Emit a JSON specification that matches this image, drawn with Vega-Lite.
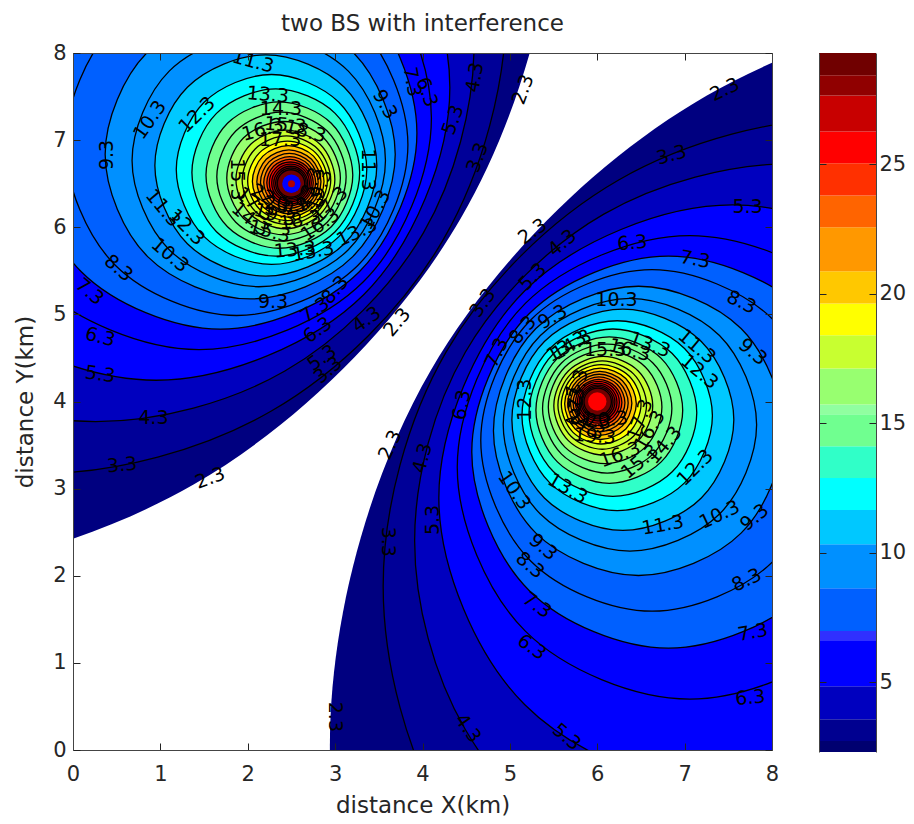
{"$schema":"https://vega.github.io/schema/vega-lite/v6.json","padding":{"left":14,"top":13,"right":0,"bottom":0},"background":"white","config":{"view":{"stroke":null},"font":"DejaVu Sans"},"spacing":39,"resolve":{"scale":{"fill":"independent","color":"independent"}},
"datasets":{
"rings":[
{"s":"A","l":2.3,"x":5.56,"y":10.28},{"s":"A","l":2.3,"x":4.44,"y":14.455},{"s":"A","l":2.3,"x":1.385,"y":17.51},{"s":"A","l":2.3,"x":-2.79,"y":18.63},{"s":"A","l":2.3,"x":-6.965,"y":17.51},{"s":"A","l":2.3,"x":-10.02,"y":14.455},{"s":"A","l":2.3,"x":-11.14,"y":10.28},{"s":"A","l":2.3,"x":-10.02,"y":6.105},{"s":"A","l":2.3,"x":-6.965,"y":3.05},{"s":"A","l":2.3,"x":-2.79,"y":1.93},{"s":"A","l":2.3,"x":1.385,"y":3.05},{"s":"A","l":2.3,"x":4.44,"y":6.105},
{"s":"B","l":2.3,"x":20.16,"y":0.05},{"s":"B","l":2.3,"x":19.01,"y":4.355},{"s":"B","l":2.3,"x":15.855,"y":7.506},{"s":"B","l":2.3,"x":11.55,"y":8.66},{"s":"B","l":2.3,"x":7.245,"y":7.506},{"s":"B","l":2.3,"x":4.094,"y":4.355},{"s":"B","l":2.3,"x":2.94,"y":0.05},{"s":"B","l":2.3,"x":4.094,"y":-4.255},{"s":"B","l":2.3,"x":7.245,"y":-7.406},{"s":"B","l":2.3,"x":11.55,"y":-8.56},{"s":"B","l":2.3,"x":15.855,"y":-7.406},{"s":"B","l":2.3,"x":19.01,"y":-4.255},
{"s":"A","l":3.3,"x":4.96,"y":8.55},{"s":"A","l":3.3,"x":4.239,"y":11.24},{"s":"A","l":3.3,"x":2.27,"y":13.209},{"s":"A","l":3.3,"x":-0.42,"y":13.93},{"s":"A","l":3.3,"x":-3.11,"y":13.209},{"s":"A","l":3.3,"x":-5.079,"y":11.24},{"s":"A","l":3.3,"x":-5.8,"y":8.55},{"s":"A","l":3.3,"x":-5.079,"y":5.86},{"s":"A","l":3.3,"x":-3.11,"y":3.891},{"s":"A","l":3.3,"x":-0.42,"y":3.17},{"s":"A","l":3.3,"x":2.27,"y":3.891},{"s":"A","l":3.3,"x":4.239,"y":5.86},
{"s":"B","l":3.3,"x":14.31,"y":1.88},{"s":"B","l":3.3,"x":13.589,"y":4.57},{"s":"B","l":3.3,"x":11.62,"y":6.539},{"s":"B","l":3.3,"x":8.93,"y":7.26},{"s":"B","l":3.3,"x":6.24,"y":6.539},{"s":"B","l":3.3,"x":4.271,"y":4.57},{"s":"B","l":3.3,"x":3.55,"y":1.88},{"s":"B","l":3.3,"x":4.271,"y":-0.81},{"s":"B","l":3.3,"x":6.24,"y":-2.779},{"s":"B","l":3.3,"x":8.93,"y":-3.5},{"s":"B","l":3.3,"x":11.62,"y":-2.779},{"s":"B","l":3.3,"x":13.589,"y":-0.81},
{"s":"A","l":4.3,"x":4.59,"y":8.1},{"s":"A","l":4.3,"x":4.01,"y":10.265},{"s":"A","l":4.3,"x":2.425,"y":11.85},{"s":"A","l":4.3,"x":0.26,"y":12.43},{"s":"A","l":4.3,"x":-1.905,"y":11.85},{"s":"A","l":4.3,"x":-3.49,"y":10.265},{"s":"A","l":4.3,"x":-4.07,"y":8.1},{"s":"A","l":4.3,"x":-3.49,"y":5.935},{"s":"A","l":4.3,"x":-1.905,"y":4.35},{"s":"A","l":4.3,"x":0.26,"y":3.77},{"s":"A","l":4.3,"x":2.425,"y":4.35},{"s":"A","l":4.3,"x":4.01,"y":5.935},
{"s":"B","l":4.3,"x":12.57,"y":2.4},{"s":"B","l":4.3,"x":11.99,"y":4.565},{"s":"B","l":4.3,"x":10.405,"y":6.15},{"s":"B","l":4.3,"x":8.24,"y":6.73},{"s":"B","l":4.3,"x":6.075,"y":6.15},{"s":"B","l":4.3,"x":4.49,"y":4.565},{"s":"B","l":4.3,"x":3.91,"y":2.4},{"s":"B","l":4.3,"x":4.49,"y":0.235},{"s":"B","l":4.3,"x":6.075,"y":-1.35},{"s":"B","l":4.3,"x":8.24,"y":-1.93},{"s":"B","l":4.3,"x":10.405,"y":-1.35},{"s":"B","l":4.3,"x":11.99,"y":0.235},
{"s":"A","l":5.3,"x":4.313,"y":7.604},{"s":"A","l":5.3,"x":3.329,"y":9.98},{"s":"A","l":5.3,"x":0.953,"y":10.964},{"s":"A","l":5.3,"x":-1.423,"y":9.98},{"s":"A","l":5.3,"x":-2.407,"y":7.604},{"s":"A","l":5.3,"x":-1.423,"y":5.228},{"s":"A","l":5.3,"x":0.953,"y":4.244},{"s":"A","l":5.3,"x":3.329,"y":5.228},
{"s":"B","l":5.3,"x":10.907,"y":2.896},{"s":"B","l":5.3,"x":9.923,"y":5.272},{"s":"B","l":5.3,"x":7.547,"y":6.256},{"s":"B","l":5.3,"x":5.171,"y":5.272},{"s":"B","l":5.3,"x":4.187,"y":2.896},{"s":"B","l":5.3,"x":5.171,"y":0.52},{"s":"B","l":5.3,"x":7.547,"y":-0.464},{"s":"B","l":5.3,"x":9.923,"y":0.52},
{"s":"A","l":6.3,"x":4.102,"y":7.255},{"s":"A","l":6.3,"x":3.323,"y":9.136},{"s":"A","l":6.3,"x":1.442,"y":9.915},{"s":"A","l":6.3,"x":-0.439,"y":9.136},{"s":"A","l":6.3,"x":-1.218,"y":7.255},{"s":"A","l":6.3,"x":-0.439,"y":5.374},{"s":"A","l":6.3,"x":1.442,"y":4.595},{"s":"A","l":6.3,"x":3.323,"y":5.374},
{"s":"B","l":6.3,"x":9.718,"y":3.245},{"s":"B","l":6.3,"x":8.939,"y":5.126},{"s":"B","l":6.3,"x":7.058,"y":5.905},{"s":"B","l":6.3,"x":5.177,"y":5.126},{"s":"B","l":6.3,"x":4.398,"y":3.245},{"s":"B","l":6.3,"x":5.177,"y":1.364},{"s":"B","l":6.3,"x":7.058,"y":0.585},{"s":"B","l":6.3,"x":8.939,"y":1.364},
{"s":"A","l":7.3,"x":3.936,"y":7.081},{"s":"A","l":7.3,"x":3.277,"y":8.672},{"s":"A","l":7.3,"x":1.686,"y":9.331},{"s":"A","l":7.3,"x":0.095,"y":8.672},{"s":"A","l":7.3,"x":-0.564,"y":7.081},{"s":"A","l":7.3,"x":0.095,"y":5.49},{"s":"A","l":7.3,"x":1.686,"y":4.831},{"s":"A","l":7.3,"x":3.277,"y":5.49},
{"s":"B","l":7.3,"x":9.064,"y":3.419},{"s":"B","l":7.3,"x":8.405,"y":5.01},{"s":"B","l":7.3,"x":6.814,"y":5.669},{"s":"B","l":7.3,"x":5.223,"y":5.01},{"s":"B","l":7.3,"x":4.564,"y":3.419},{"s":"B","l":7.3,"x":5.223,"y":1.828},{"s":"B","l":7.3,"x":6.814,"y":1.169},{"s":"B","l":7.3,"x":8.405,"y":1.828},
{"s":"A","l":8.3,"x":3.833,"y":6.947},{"s":"A","l":8.3,"x":3.259,"y":8.333},{"s":"A","l":8.3,"x":1.873,"y":8.907},{"s":"A","l":8.3,"x":0.487,"y":8.333},{"s":"A","l":8.3,"x":-0.087,"y":6.947},{"s":"A","l":8.3,"x":0.487,"y":5.561},{"s":"A","l":8.3,"x":1.873,"y":4.987},{"s":"A","l":8.3,"x":3.259,"y":5.561},
{"s":"B","l":8.3,"x":8.587,"y":3.553},{"s":"B","l":8.3,"x":8.013,"y":4.939},{"s":"B","l":8.3,"x":6.627,"y":5.513},{"s":"B","l":8.3,"x":5.241,"y":4.939},{"s":"B","l":8.3,"x":4.667,"y":3.553},{"s":"B","l":8.3,"x":5.241,"y":2.167},{"s":"B","l":8.3,"x":6.627,"y":1.593},{"s":"B","l":8.3,"x":8.013,"y":2.167},
{"s":"A","l":9.3,"x":3.688,"y":6.837},{"s":"A","l":9.3,"x":3.202,"y":8.011},{"s":"A","l":9.3,"x":2.028,"y":8.497},{"s":"A","l":9.3,"x":0.854,"y":8.011},{"s":"A","l":9.3,"x":0.368,"y":6.837},{"s":"A","l":9.3,"x":0.854,"y":5.663},{"s":"A","l":9.3,"x":2.028,"y":5.177},{"s":"A","l":9.3,"x":3.202,"y":5.663},
{"s":"B","l":9.3,"x":8.132,"y":3.663},{"s":"B","l":9.3,"x":7.646,"y":4.837},{"s":"B","l":9.3,"x":6.472,"y":5.323},{"s":"B","l":9.3,"x":5.298,"y":4.837},{"s":"B","l":9.3,"x":4.812,"y":3.663},{"s":"B","l":9.3,"x":5.298,"y":2.489},{"s":"B","l":9.3,"x":6.472,"y":2.003},{"s":"B","l":9.3,"x":7.646,"y":2.489},
{"s":"A","l":10.3,"x":3.576,"y":6.767},{"s":"A","l":10.3,"x":3.151,"y":7.792},{"s":"A","l":10.3,"x":2.126,"y":8.217},{"s":"A","l":10.3,"x":1.101,"y":7.792},{"s":"A","l":10.3,"x":0.676,"y":6.767},{"s":"A","l":10.3,"x":1.101,"y":5.742},{"s":"A","l":10.3,"x":2.126,"y":5.317},{"s":"A","l":10.3,"x":3.151,"y":5.742},
{"s":"B","l":10.3,"x":7.824,"y":3.733},{"s":"B","l":10.3,"x":7.399,"y":4.758},{"s":"B","l":10.3,"x":6.374,"y":5.183},{"s":"B","l":10.3,"x":5.349,"y":4.758},{"s":"B","l":10.3,"x":4.924,"y":3.733},{"s":"B","l":10.3,"x":5.349,"y":2.708},{"s":"B","l":10.3,"x":6.374,"y":2.283},{"s":"B","l":10.3,"x":7.399,"y":2.708},
{"s":"A","l":11.3,"x":3.477,"y":6.709},{"s":"A","l":11.3,"x":3.105,"y":7.607},{"s":"A","l":11.3,"x":2.207,"y":7.979},{"s":"A","l":11.3,"x":1.309,"y":7.607},{"s":"A","l":11.3,"x":0.937,"y":6.709},{"s":"A","l":11.3,"x":1.309,"y":5.811},{"s":"A","l":11.3,"x":2.207,"y":5.439},{"s":"A","l":11.3,"x":3.105,"y":5.811},
{"s":"B","l":11.3,"x":7.563,"y":3.791},{"s":"B","l":11.3,"x":7.191,"y":4.689},{"s":"B","l":11.3,"x":6.293,"y":5.061},{"s":"B","l":11.3,"x":5.395,"y":4.689},{"s":"B","l":11.3,"x":5.023,"y":3.791},{"s":"B","l":11.3,"x":5.395,"y":2.893},{"s":"B","l":11.3,"x":6.293,"y":2.521},{"s":"B","l":11.3,"x":7.191,"y":2.893},
{"s":"A","l":12.3,"x":3.362,"y":6.663},{"s":"A","l":12.3,"x":3.043,"y":7.434},{"s":"A","l":12.3,"x":2.272,"y":7.753},{"s":"A","l":12.3,"x":1.501,"y":7.434},{"s":"A","l":12.3,"x":1.182,"y":6.663},{"s":"A","l":12.3,"x":1.501,"y":5.892},{"s":"A","l":12.3,"x":2.272,"y":5.573},{"s":"A","l":12.3,"x":3.043,"y":5.892},
{"s":"B","l":12.3,"x":7.318,"y":3.837},{"s":"B","l":12.3,"x":6.999,"y":4.608},{"s":"B","l":12.3,"x":6.228,"y":4.927},{"s":"B","l":12.3,"x":5.457,"y":4.608},{"s":"B","l":12.3,"x":5.138,"y":3.837},{"s":"B","l":12.3,"x":5.457,"y":3.066},{"s":"B","l":12.3,"x":6.228,"y":2.747},{"s":"B","l":12.3,"x":6.999,"y":3.066},
{"s":"A","l":13.3,"x":3.281,"y":6.628},{"s":"A","l":13.3,"x":3,"y":7.307},{"s":"A","l":13.3,"x":2.321,"y":7.588},{"s":"A","l":13.3,"x":1.642,"y":7.307},{"s":"A","l":13.3,"x":1.361,"y":6.628},{"s":"A","l":13.3,"x":1.642,"y":5.949},{"s":"A","l":13.3,"x":2.321,"y":5.668},{"s":"A","l":13.3,"x":3,"y":5.949},
{"s":"B","l":13.3,"x":7.139,"y":3.872},{"s":"B","l":13.3,"x":6.858,"y":4.551},{"s":"B","l":13.3,"x":6.179,"y":4.832},{"s":"B","l":13.3,"x":5.5,"y":4.551},{"s":"B","l":13.3,"x":5.219,"y":3.872},{"s":"B","l":13.3,"x":5.5,"y":3.193},{"s":"B","l":13.3,"x":6.179,"y":2.912},{"s":"B","l":13.3,"x":6.858,"y":3.193},
{"s":"A","l":14.3,"x":3.202,"y":6.599},{"s":"A","l":14.3,"x":2.956,"y":7.193},{"s":"A","l":14.3,"x":2.362,"y":7.439},{"s":"A","l":14.3,"x":1.768,"y":7.193},{"s":"A","l":14.3,"x":1.522,"y":6.599},{"s":"A","l":14.3,"x":1.768,"y":6.005},{"s":"A","l":14.3,"x":2.362,"y":5.759},{"s":"A","l":14.3,"x":2.956,"y":6.005},
{"s":"B","l":14.3,"x":6.978,"y":3.901},{"s":"B","l":14.3,"x":6.732,"y":4.495},{"s":"B","l":14.3,"x":6.138,"y":4.741},{"s":"B","l":14.3,"x":5.544,"y":4.495},{"s":"B","l":14.3,"x":5.298,"y":3.901},{"s":"B","l":14.3,"x":5.544,"y":3.307},{"s":"B","l":14.3,"x":6.138,"y":3.061},{"s":"B","l":14.3,"x":6.732,"y":3.307},
{"s":"A","l":15.3,"x":3.126,"y":6.581},{"s":"A","l":15.3,"x":2.909,"y":7.104},{"s":"A","l":15.3,"x":2.386,"y":7.321},{"s":"A","l":15.3,"x":1.863,"y":7.104},{"s":"A","l":15.3,"x":1.646,"y":6.581},{"s":"A","l":15.3,"x":1.863,"y":6.058},{"s":"A","l":15.3,"x":2.386,"y":5.841},{"s":"A","l":15.3,"x":2.909,"y":6.058},
{"s":"B","l":15.3,"x":6.854,"y":3.919},{"s":"B","l":15.3,"x":6.637,"y":4.442},{"s":"B","l":15.3,"x":6.114,"y":4.659},{"s":"B","l":15.3,"x":5.591,"y":4.442},{"s":"B","l":15.3,"x":5.374,"y":3.919},{"s":"B","l":15.3,"x":5.591,"y":3.396},{"s":"B","l":15.3,"x":6.114,"y":3.179},{"s":"B","l":15.3,"x":6.637,"y":3.396},
{"s":"A","l":16.3,"x":3.06,"y":6.564},{"s":"A","l":16.3,"x":2.87,"y":7.024},{"s":"A","l":16.3,"x":2.41,"y":7.214},{"s":"A","l":16.3,"x":1.95,"y":7.024},{"s":"A","l":16.3,"x":1.76,"y":6.564},{"s":"A","l":16.3,"x":1.95,"y":6.104},{"s":"A","l":16.3,"x":2.41,"y":5.914},{"s":"A","l":16.3,"x":2.87,"y":6.104},
{"s":"B","l":16.3,"x":6.74,"y":3.936},{"s":"B","l":16.3,"x":6.55,"y":4.396},{"s":"B","l":16.3,"x":6.09,"y":4.586},{"s":"B","l":16.3,"x":5.63,"y":4.396},{"s":"B","l":16.3,"x":5.44,"y":3.936},{"s":"B","l":16.3,"x":5.63,"y":3.476},{"s":"B","l":16.3,"x":6.09,"y":3.286},{"s":"B","l":16.3,"x":6.55,"y":3.476},
{"s":"A","l":17.3,"x":2.997,"y":6.549},{"s":"A","l":17.3,"x":2.831,"y":6.949},{"s":"A","l":17.3,"x":2.431,"y":7.115},{"s":"A","l":17.3,"x":2.031,"y":6.949},{"s":"A","l":17.3,"x":1.865,"y":6.549},{"s":"A","l":17.3,"x":2.031,"y":6.149},{"s":"A","l":17.3,"x":2.431,"y":5.983},{"s":"A","l":17.3,"x":2.831,"y":6.149},
{"s":"B","l":17.3,"x":6.635,"y":3.951},{"s":"B","l":17.3,"x":6.469,"y":4.351},{"s":"B","l":17.3,"x":6.069,"y":4.517},{"s":"B","l":17.3,"x":5.669,"y":4.351},{"s":"B","l":17.3,"x":5.503,"y":3.951},{"s":"B","l":17.3,"x":5.669,"y":3.551},{"s":"B","l":17.3,"x":6.069,"y":3.385},{"s":"B","l":17.3,"x":6.469,"y":3.551},
{"s":"A","l":18.3,"x":2.95,"y":6.541},{"s":"A","l":18.3,"x":2.801,"y":6.899},{"s":"A","l":18.3,"x":2.443,"y":7.048},{"s":"A","l":18.3,"x":2.085,"y":6.899},{"s":"A","l":18.3,"x":1.936,"y":6.541},{"s":"A","l":18.3,"x":2.085,"y":6.183},{"s":"A","l":18.3,"x":2.443,"y":6.034},{"s":"A","l":18.3,"x":2.801,"y":6.183},
{"s":"B","l":18.3,"x":6.564,"y":3.959},{"s":"B","l":18.3,"x":6.415,"y":4.317},{"s":"B","l":18.3,"x":6.057,"y":4.466},{"s":"B","l":18.3,"x":5.699,"y":4.317},{"s":"B","l":18.3,"x":5.55,"y":3.959},{"s":"B","l":18.3,"x":5.699,"y":3.601},{"s":"B","l":18.3,"x":6.057,"y":3.452},{"s":"B","l":18.3,"x":6.415,"y":3.601},
{"s":"A","l":19.3,"x":2.911,"y":6.532},{"s":"A","l":19.3,"x":2.777,"y":6.854},{"s":"A","l":19.3,"x":2.455,"y":6.988},{"s":"A","l":19.3,"x":2.133,"y":6.854},{"s":"A","l":19.3,"x":1.999,"y":6.532},{"s":"A","l":19.3,"x":2.133,"y":6.21},{"s":"A","l":19.3,"x":2.455,"y":6.076},{"s":"A","l":19.3,"x":2.777,"y":6.21},
{"s":"B","l":19.3,"x":6.501,"y":3.968},{"s":"B","l":19.3,"x":6.367,"y":4.29},{"s":"B","l":19.3,"x":6.045,"y":4.424},{"s":"B","l":19.3,"x":5.723,"y":4.29},{"s":"B","l":19.3,"x":5.589,"y":3.968},{"s":"B","l":19.3,"x":5.723,"y":3.646},{"s":"B","l":19.3,"x":6.045,"y":3.512},{"s":"B","l":19.3,"x":6.367,"y":3.646},
{"s":"A","l":20.3,"x":2.873,"y":6.526},{"s":"A","l":20.3,"x":2.753,"y":6.816},{"s":"A","l":20.3,"x":2.463,"y":6.936},{"s":"A","l":20.3,"x":2.173,"y":6.816},{"s":"A","l":20.3,"x":2.053,"y":6.526},{"s":"A","l":20.3,"x":2.173,"y":6.236},{"s":"A","l":20.3,"x":2.463,"y":6.116},{"s":"A","l":20.3,"x":2.753,"y":6.236},
{"s":"B","l":20.3,"x":6.447,"y":3.974},{"s":"B","l":20.3,"x":6.327,"y":4.264},{"s":"B","l":20.3,"x":6.037,"y":4.384},{"s":"B","l":20.3,"x":5.747,"y":4.264},{"s":"B","l":20.3,"x":5.627,"y":3.974},{"s":"B","l":20.3,"x":5.747,"y":3.684},{"s":"B","l":20.3,"x":6.037,"y":3.564},{"s":"B","l":20.3,"x":6.327,"y":3.684},
{"s":"A","l":21.3,"x":2.838,"y":6.521},{"s":"A","l":21.3,"x":2.73,"y":6.78},{"s":"A","l":21.3,"x":2.471,"y":6.888},{"s":"A","l":21.3,"x":2.212,"y":6.78},{"s":"A","l":21.3,"x":2.104,"y":6.521},{"s":"A","l":21.3,"x":2.212,"y":6.262},{"s":"A","l":21.3,"x":2.471,"y":6.154},{"s":"A","l":21.3,"x":2.73,"y":6.262},
{"s":"B","l":21.3,"x":6.396,"y":3.979},{"s":"B","l":21.3,"x":6.288,"y":4.238},{"s":"B","l":21.3,"x":6.029,"y":4.346},{"s":"B","l":21.3,"x":5.77,"y":4.238},{"s":"B","l":21.3,"x":5.662,"y":3.979},{"s":"B","l":21.3,"x":5.77,"y":3.72},{"s":"B","l":21.3,"x":6.029,"y":3.612},{"s":"B","l":21.3,"x":6.288,"y":3.72},
{"s":"A","l":22.3,"x":2.806,"y":6.517},{"s":"A","l":22.3,"x":2.709,"y":6.75},{"s":"A","l":22.3,"x":2.476,"y":6.847},{"s":"A","l":22.3,"x":2.243,"y":6.75},{"s":"A","l":22.3,"x":2.146,"y":6.517},{"s":"A","l":22.3,"x":2.243,"y":6.284},{"s":"A","l":22.3,"x":2.476,"y":6.187},{"s":"A","l":22.3,"x":2.709,"y":6.284},
{"s":"B","l":22.3,"x":6.354,"y":3.983},{"s":"B","l":22.3,"x":6.257,"y":4.216},{"s":"B","l":22.3,"x":6.024,"y":4.313},{"s":"B","l":22.3,"x":5.791,"y":4.216},{"s":"B","l":22.3,"x":5.694,"y":3.983},{"s":"B","l":22.3,"x":5.791,"y":3.75},{"s":"B","l":22.3,"x":6.024,"y":3.653},{"s":"B","l":22.3,"x":6.257,"y":3.75},
{"s":"A","l":23.3,"x":2.777,"y":6.514},{"s":"A","l":23.3,"x":2.69,"y":6.724},{"s":"A","l":23.3,"x":2.48,"y":6.811},{"s":"A","l":23.3,"x":2.27,"y":6.724},{"s":"A","l":23.3,"x":2.183,"y":6.514},{"s":"A","l":23.3,"x":2.27,"y":6.304},{"s":"A","l":23.3,"x":2.48,"y":6.217},{"s":"A","l":23.3,"x":2.69,"y":6.304},
{"s":"B","l":23.3,"x":6.317,"y":3.986},{"s":"B","l":23.3,"x":6.23,"y":4.196},{"s":"B","l":23.3,"x":6.02,"y":4.283},{"s":"B","l":23.3,"x":5.81,"y":4.196},{"s":"B","l":23.3,"x":5.723,"y":3.986},{"s":"B","l":23.3,"x":5.81,"y":3.776},{"s":"B","l":23.3,"x":6.02,"y":3.689},{"s":"B","l":23.3,"x":6.23,"y":3.776},
{"s":"A","l":24.3,"x":2.75,"y":6.512},{"s":"A","l":24.3,"x":2.672,"y":6.7},{"s":"A","l":24.3,"x":2.484,"y":6.778},{"s":"A","l":24.3,"x":2.296,"y":6.7},{"s":"A","l":24.3,"x":2.218,"y":6.512},{"s":"A","l":24.3,"x":2.296,"y":6.324},{"s":"A","l":24.3,"x":2.484,"y":6.246},{"s":"A","l":24.3,"x":2.672,"y":6.324},
{"s":"B","l":24.3,"x":6.282,"y":3.988},{"s":"B","l":24.3,"x":6.204,"y":4.176},{"s":"B","l":24.3,"x":6.016,"y":4.254},{"s":"B","l":24.3,"x":5.828,"y":4.176},{"s":"B","l":24.3,"x":5.75,"y":3.988},{"s":"B","l":24.3,"x":5.828,"y":3.8},{"s":"B","l":24.3,"x":6.016,"y":3.722},{"s":"B","l":24.3,"x":6.204,"y":3.8},
{"s":"A","l":25.3,"x":2.727,"y":6.509},{"s":"A","l":25.3,"x":2.657,"y":6.679},{"s":"A","l":25.3,"x":2.487,"y":6.749},{"s":"A","l":25.3,"x":2.317,"y":6.679},{"s":"A","l":25.3,"x":2.247,"y":6.509},{"s":"A","l":25.3,"x":2.317,"y":6.339},{"s":"A","l":25.3,"x":2.487,"y":6.269},{"s":"A","l":25.3,"x":2.657,"y":6.339},
{"s":"B","l":25.3,"x":6.253,"y":3.991},{"s":"B","l":25.3,"x":6.183,"y":4.161},{"s":"B","l":25.3,"x":6.013,"y":4.231},{"s":"B","l":25.3,"x":5.843,"y":4.161},{"s":"B","l":25.3,"x":5.773,"y":3.991},{"s":"B","l":25.3,"x":5.843,"y":3.821},{"s":"B","l":25.3,"x":6.013,"y":3.751},{"s":"B","l":25.3,"x":6.183,"y":3.821},
{"s":"A","l":26.3,"x":2.706,"y":6.508},{"s":"A","l":26.3,"x":2.643,"y":6.661},{"s":"A","l":26.3,"x":2.49,"y":6.724},{"s":"A","l":26.3,"x":2.337,"y":6.661},{"s":"A","l":26.3,"x":2.274,"y":6.508},{"s":"A","l":26.3,"x":2.337,"y":6.355},{"s":"A","l":26.3,"x":2.49,"y":6.292},{"s":"A","l":26.3,"x":2.643,"y":6.355},
{"s":"B","l":26.3,"x":6.226,"y":3.992},{"s":"B","l":26.3,"x":6.163,"y":4.145},{"s":"B","l":26.3,"x":6.01,"y":4.208},{"s":"B","l":26.3,"x":5.857,"y":4.145},{"s":"B","l":26.3,"x":5.794,"y":3.992},{"s":"B","l":26.3,"x":5.857,"y":3.839},{"s":"B","l":26.3,"x":6.01,"y":3.776},{"s":"B","l":26.3,"x":6.163,"y":3.839},
{"s":"A","l":27.3,"x":2.686,"y":6.506},{"s":"A","l":27.3,"x":2.629,"y":6.643},{"s":"A","l":27.3,"x":2.492,"y":6.7},{"s":"A","l":27.3,"x":2.355,"y":6.643},{"s":"A","l":27.3,"x":2.298,"y":6.506},{"s":"A","l":27.3,"x":2.355,"y":6.369},{"s":"A","l":27.3,"x":2.492,"y":6.312},{"s":"A","l":27.3,"x":2.629,"y":6.369},
{"s":"B","l":27.3,"x":6.202,"y":3.994},{"s":"B","l":27.3,"x":6.145,"y":4.131},{"s":"B","l":27.3,"x":6.008,"y":4.188},{"s":"B","l":27.3,"x":5.871,"y":4.131},{"s":"B","l":27.3,"x":5.814,"y":3.994},{"s":"B","l":27.3,"x":5.871,"y":3.857},{"s":"B","l":27.3,"x":6.008,"y":3.8},{"s":"B","l":27.3,"x":6.145,"y":3.857},
{"s":"A","l":28.3,"x":2.669,"y":6.505},{"s":"A","l":28.3,"x":2.618,"y":6.629},{"s":"A","l":28.3,"x":2.494,"y":6.68},{"s":"A","l":28.3,"x":2.37,"y":6.629},{"s":"A","l":28.3,"x":2.319,"y":6.505},{"s":"A","l":28.3,"x":2.37,"y":6.381},{"s":"A","l":28.3,"x":2.494,"y":6.33},{"s":"A","l":28.3,"x":2.618,"y":6.381},
{"s":"B","l":28.3,"x":6.181,"y":3.995},{"s":"B","l":28.3,"x":6.13,"y":4.119},{"s":"B","l":28.3,"x":6.006,"y":4.17},{"s":"B","l":28.3,"x":5.882,"y":4.119},{"s":"B","l":28.3,"x":5.831,"y":3.995},{"s":"B","l":28.3,"x":5.882,"y":3.871},{"s":"B","l":28.3,"x":6.006,"y":3.82},{"s":"B","l":28.3,"x":6.13,"y":3.871},
{"s":"A","l":29.3,"x":2.652,"y":6.503},{"s":"A","l":29.3,"x":2.606,"y":6.614},{"s":"A","l":29.3,"x":2.495,"y":6.66},{"s":"A","l":29.3,"x":2.384,"y":6.614},{"s":"A","l":29.3,"x":2.338,"y":6.503},{"s":"A","l":29.3,"x":2.384,"y":6.392},{"s":"A","l":29.3,"x":2.495,"y":6.346},{"s":"A","l":29.3,"x":2.606,"y":6.392},
{"s":"B","l":29.3,"x":6.162,"y":3.997},{"s":"B","l":29.3,"x":6.116,"y":4.108},{"s":"B","l":29.3,"x":6.005,"y":4.154},{"s":"B","l":29.3,"x":5.894,"y":4.108},{"s":"B","l":29.3,"x":5.848,"y":3.997},{"s":"B","l":29.3,"x":5.894,"y":3.886},{"s":"B","l":29.3,"x":6.005,"y":3.84},{"s":"B","l":29.3,"x":6.116,"y":3.886}
],
"labels":[
{"t":"11.3","x":2.06,"y":7.9,"a":15},{"t":"10.3","x":0.88,"y":7.23,"a":-55},{"t":"12.3","x":1.42,"y":7.29,"a":-45},{"t":"13.3","x":2.23,"y":7.52,"a":5},{"t":"9.3","x":0.39,"y":6.83,"a":-90},{"t":"11.3","x":1.03,"y":6.22,"a":50},{"t":"12.3","x":1.3,"y":6.0,"a":45},{"t":"10.3","x":1.11,"y":5.68,"a":40},{"t":"8.3","x":0.52,"y":5.53,"a":40},{"t":"7.3","x":0.19,"y":5.26,"a":40},{"t":"6.3","x":0.31,"y":4.74,"a":15},{"t":"5.3","x":0.31,"y":4.31,"a":8},{"t":"4.3","x":0.92,"y":3.81,"a":0},{"t":"3.3","x":0.56,"y":3.27,"a":-5},{"t":"2.3","x":1.57,"y":3.12,"a":-20},{"t":"9.3","x":2.29,"y":5.14,"a":0},{"t":"3.3","x":2.92,"y":4.36,"a":-40},{"t":"4.3","x":3.36,"y":4.94,"a":-35},{"t":"2.3","x":3.71,"y":4.91,"a":-50},{"t":"6.3","x":2.8,"y":4.82,"a":-35},{"t":"5.3","x":2.85,"y":4.5,"a":-35},{"t":"7.3","x":2.77,"y":5.05,"a":-35},{"t":"8.3","x":3.0,"y":5.28,"a":-50},
{"t":"7.3","x":3.88,"y":7.67,"a":80},{"t":"6.3","x":4.05,"y":7.55,"a":70},{"t":"5.3","x":4.35,"y":7.23,"a":-70},{"t":"4.3","x":4.6,"y":7.72,"a":-80},{"t":"3.3","x":4.63,"y":6.8,"a":-70},{"t":"2.3","x":5.15,"y":7.58,"a":-70},{"t":"9.3","x":3.57,"y":7.41,"a":60},{"t":"11.3","x":3.38,"y":6.66,"a":90},{"t":"10.3","x":3.46,"y":6.2,"a":-60},{"t":"13.3","x":3.25,"y":5.94,"a":-25},{"t":"13.3","x":2.75,"y":5.72,"a":-10},
{"t":"14.3","x":2.38,"y":7.36,"a":0},{"t":"15.3","x":2.43,"y":7.17,"a":5},{"t":"16.3","x":2.17,"y":7.12,"a":-15},{"t":"17.3","x":2.37,"y":7.0,"a":0},{"t":"18.3","x":2.66,"y":7.1,"a":15},{"t":"14.3","x":2.03,"y":6.09,"a":40},{"t":"15.3","x":2.25,"y":5.95,"a":15},{"t":"13.3","x":2.54,"y":5.74,"a":-5},{"t":"16.3","x":2.83,"y":6.03,"a":-35},{"t":"15.3","x":1.88,"y":6.55,"a":90},{"t":"20.3","x":2.43,"y":6.26,"a":5},{"t":"21.3","x":2.65,"y":6.26,"a":-15},{"t":"22.3","x":2.26,"y":6.32,"a":30},{"t":"23.3","x":2.71,"y":6.45,"a":-70},{"t":"19.3","x":2.31,"y":6.14,"a":15},{"t":"18.3","x":2.6,"y":6.08,"a":-10},{"t":"17.3","x":2.08,"y":6.26,"a":40},{"t":"17.3","x":2.94,"y":6.26,"a":-45},{"t":"19.3","x":2.82,"y":6.43,"a":-70},
{"t":"2.3","x":7.46,"y":7.58,"a":-25},{"t":"3.3","x":6.85,"y":6.83,"a":-15},{"t":"5.3","x":7.72,"y":6.23,"a":0},{"t":"6.3","x":6.4,"y":5.82,"a":-5},{"t":"7.3","x":7.12,"y":5.63,"a":10},{"t":"8.3","x":7.65,"y":5.14,"a":25},{"t":"9.3","x":7.78,"y":4.57,"a":40},{"t":"10.3","x":6.22,"y":5.17,"a":0},{"t":"11.3","x":7.14,"y":4.63,"a":40},{"t":"12.3","x":7.17,"y":4.34,"a":40},{"t":"13.3","x":6.6,"y":4.65,"a":20},{"t":"12.3","x":7.12,"y":3.24,"a":-45},{"t":"11.3","x":6.75,"y":2.58,"a":-10},{"t":"10.3","x":7.4,"y":2.7,"a":-25},{"t":"9.3","x":7.8,"y":2.67,"a":-40},{"t":"8.3","x":7.71,"y":1.95,"a":-25},{"t":"7.3","x":7.78,"y":1.35,"a":-10},{"t":"6.3","x":7.75,"y":0.6,"a":-5},{"t":"5.3","x":5.65,"y":0.15,"a":40},{"t":"4.3","x":4.52,"y":0.25,"a":55},{"t":"6.3","x":5.25,"y":1.18,"a":35},{"t":"7.3","x":5.31,"y":1.66,"a":35},{"t":"8.3","x":5.23,"y":2.12,"a":40},{"t":"9.3","x":5.38,"y":2.33,"a":40},{"t":"10.3","x":5.05,"y":2.98,"a":55},{"t":"13.3","x":5.66,"y":3.0,"a":30},{"t":"2.3","x":3.0,"y":0.38,"a":90},{"t":"3.3","x":3.6,"y":2.39,"a":90},{"t":"5.3","x":4.12,"y":2.64,"a":-90},{"t":"4.3","x":4.0,"y":3.35,"a":-75},{"t":"2.3","x":3.63,"y":3.5,"a":-65},{"t":"6.3","x":4.45,"y":3.96,"a":-80},{"t":"7.3","x":4.85,"y":4.56,"a":-65},{"t":"8.3","x":5.15,"y":4.82,"a":-50},{"t":"9.3","x":5.49,"y":4.97,"a":-30},{"t":"3.3","x":4.69,"y":5.13,"a":-55},{"t":"5.3","x":5.26,"y":5.43,"a":-45},{"t":"4.3","x":5.6,"y":5.82,"a":-40},{"t":"2.3","x":5.26,"y":5.95,"a":-35},
{"t":"13.3","x":5.65,"y":4.63,"a":-30},{"t":"12.3","x":5.17,"y":4.02,"a":-90},{"t":"14.3","x":5.71,"y":4.65,"a":-30},{"t":"15.3","x":6.09,"y":4.59,"a":0},{"t":"16.3","x":6.37,"y":4.59,"a":15},{"t":"17.3","x":6.49,"y":3.79,"a":-70},{"t":"16.3","x":6.6,"y":3.67,"a":-60},{"t":"15.3","x":6.49,"y":3.31,"a":-40},{"t":"16.3","x":6.26,"y":3.39,"a":-20},{"t":"14.3","x":6.77,"y":3.5,"a":-50},{"t":"21.3","x":5.92,"y":3.79,"a":10},{"t":"22.3","x":5.74,"y":3.96,"a":80},{"t":"23.3","x":5.78,"y":4.13,"a":-80},{"t":"24.3","x":5.86,"y":3.73,"a":30},{"t":"19.3","x":5.97,"y":3.6,"a":5},{"t":"20.3","x":6.11,"y":3.79,"a":-5}
],
"sites":[{"bs":"BS1","x":2.5,"y":6.5},{"bs":"BS2","x":6,"y":4}],
"centre":[{"x":2.5,"y":6.5}],
"bands":[{"lo":2.31,"hi":2.73},{"lo":2.73,"hi":3.57},{"lo":3.57,"hi":4.85},{"lo":4.85,"hi":6.6},{"lo":6.6,"hi":6.98},{"lo":6.98,"hi":8.63},{"lo":8.63,"hi":10.33},{"lo":10.33,"hi":11.65},{"lo":11.65,"hi":12.89},{"lo":12.89,"hi":14.12},{"lo":14.12,"hi":15.35},{"lo":15.35,"hi":15.73},{"lo":15.73,"hi":17.12},{"lo":17.12,"hi":18.4},{"lo":18.4,"hi":19.63},{"lo":19.63,"hi":20.87},{"lo":20.87,"hi":22.57},{"lo":22.57,"hi":23.8},{"lo":23.8,"hi":25.04},{"lo":25.04,"hi":26.27},{"lo":26.27,"hi":27.66},{"lo":27.66,"hi":28.44},{"lo":28.44,"hi":29.3}]
},
"hconcat":[
{"width":699,"height":697,"title":{"text":"two BS with interference","fontSize":23,"fontWeight":"normal","color":"#262626","font":"DejaVu Sans","offset":6},
"resolve":{"axis":{"x":"independent","y":"independent"}},
"layer":[
{"data":{"name":"rings"},"mark":{"type":"line","interpolate":"cardinal-closed","clip":true,"strokeWidth":1.3},
"encoding":{"x":{"field":"x","type":"quantitative","scale":{"domain":[0,8],"nice":false,"zero":false},"axis":{"orient":"bottom","values":[0,1,2,3,4,5,6,7,8],"title":"distance  X(km)","titleFontSize":23,"titleFontWeight":"normal","titleColor":"#262626","titleFont":"DejaVu Sans","titlePadding":10,"labelFontSize":21,"labelColor":"#262626","labelFont":"DejaVu Sans","domainColor":"#444444","tickColor":"#222222","tickSize":-7,"labelPadding":20,"grid":false,"labelFlush":false,"zindex":1}},
"y":{"field":"y","type":"quantitative","scale":{"domain":[0,8],"nice":false,"zero":false},"axis":{"orient":"left","values":[0,1,2,3,4,5,6,7,8],"title":"distance  Y(km)","titleFontSize":23,"titleFontWeight":"normal","titleColor":"#262626","titleFont":"DejaVu Sans","titlePadding":15,"labelFontSize":21,"labelColor":"#262626","labelFont":"DejaVu Sans","domainColor":"#444444","tickColor":"#222222","tickSize":-7,"labelPadding":14,"grid":false,"labelFlush":false,"zindex":1}},
"detail":{"field":"s"},"order":{"value":null},
"fill":{"field":"l","type":"ordinal","legend":null,"scale":{"domain":[2.3,3.3,4.3,5.3,6.3,7.3,8.3,9.3,10.3,11.3,12.3,13.3,14.3,15.3,16.3,17.3,18.3,19.3,20.3,21.3,22.3,23.3,24.3,25.3,26.3,27.3,28.3,29.3],"range":["#000080","#000098","#0000BF","#0000FF","#0000FF","#0060FF","#0060FF","#0090FF","#0090FF","#00C8FF","#00FFFF","#30FFC8","#70FF90","#70FF90","#98FF70","#C8FF30","#C8FF30","#FFFF00","#FFC800","#FF9800","#FF9800","#FF6400","#FF3000","#FF0000","#C80000","#C80000","#900000","#700000"]}},
"stroke":{"condition":{"test":"datum.l===2.3","value":"transparent"},"value":"#000000"}}},
{"data":{"name":"labels"},"mark":{"type":"text","clip":true,"font":"DejaVu Sans","fontSize":19,"color":"#000000","align":"center","baseline":"middle"},
"encoding":{"x":{"field":"x","type":"quantitative","scale":{"domain":[0,8],"nice":false,"zero":false},"axis":{"orient":"top","values":[0,1,2,3,4,5,6,7,8],"title":null,"labels":false,"domainColor":"#444444","tickColor":"#222222","tickSize":-7,"grid":false,"zindex":1}},
"y":{"field":"y","type":"quantitative","scale":{"domain":[0,8],"nice":false,"zero":false},"axis":{"orient":"right","values":[0,1,2,3,4,5,6,7,8],"title":null,"labels":false,"domainColor":"#444444","tickColor":"#222222","tickSize":-7,"grid":false,"zindex":1}},
"text":{"field":"t","type":"nominal"},"angle":{"field":"a","type":"quantitative","scale":null}}},
{"data":{"name":"sites"},"mark":{"type":"point","filled":true,"opacity":1},
"encoding":{"x":{"field":"x","type":"quantitative","axis":null},"y":{"field":"y","type":"quantitative","axis":null},"size":{"value":340},"color":{"field":"bs","type":"nominal","legend":null,"scale":{"domain":["BS1","BS2"],"range":["#0000FF","#FF0000"]}}}},
{"data":{"name":"centre"},"mark":{"type":"point","filled":true,"opacity":1,"color":"#B00000"},
"encoding":{"x":{"field":"x","type":"quantitative","axis":null},"y":{"field":"y","type":"quantitative","axis":null},"size":{"value":50}}}
]},
{"width":57,"height":699,"data":{"name":"bands"},
"resolve":{"axis":{"y":"independent"}},
"layer":[
{"mark":{"type":"rect"},"encoding":{"x":{"datum":0,"type":"quantitative","scale":{"domain":[0,1]},"axis":null},"x2":{"datum":1},
"y":{"field":"lo","type":"quantitative","scale":{"domain":[2.31,29.3],"nice":false,"zero":false},"axis":{"orient":"left","values":[5,10,15,20,25],"title":null,"labels":false,"domainColor":"#444444","tickColor":"#222222","tickSize":-7,"grid":false,"zindex":1}},
"y2":{"field":"hi"},
"fill":{"field":"lo","type":"ordinal","legend":null,"scale":{"domain":[2.31,2.73,3.57,4.85,6.6,6.98,8.63,10.33,11.65,12.89,14.12,15.35,15.73,17.12,18.4,19.63,20.87,22.57,23.8,25.04,26.27,27.66,28.44],"range":["#000070","#000090","#0000BF","#0000FF","#3030FF","#0060FF","#0090FF","#00C8FF","#00FFFF","#30FFC8","#70FF90","#90FFA0","#98FF70","#C8FF30","#FFFF00","#FFC800","#FF9800","#FF6400","#FF3000","#FF0000","#C80000","#900000","#700000"]}}}},
{"mark":{"type":"rect","fillOpacity":0},"encoding":{"x":{"datum":0,"type":"quantitative","scale":{"domain":[0,1]},"axis":null},"x2":{"datum":1},
"y":{"field":"lo","type":"quantitative","scale":{"domain":[2.31,29.3],"nice":false,"zero":false},"axis":{"orient":"right","values":[5,10,15,20,25],"title":null,"labelFontSize":21,"labelColor":"#262626","labelFont":"DejaVu Sans","domainColor":"#444444","tickColor":"#222222","tickSize":-7,"labelPadding":10,"grid":false,"zindex":1}},
"y2":{"field":"hi"}}}
]}
]}
